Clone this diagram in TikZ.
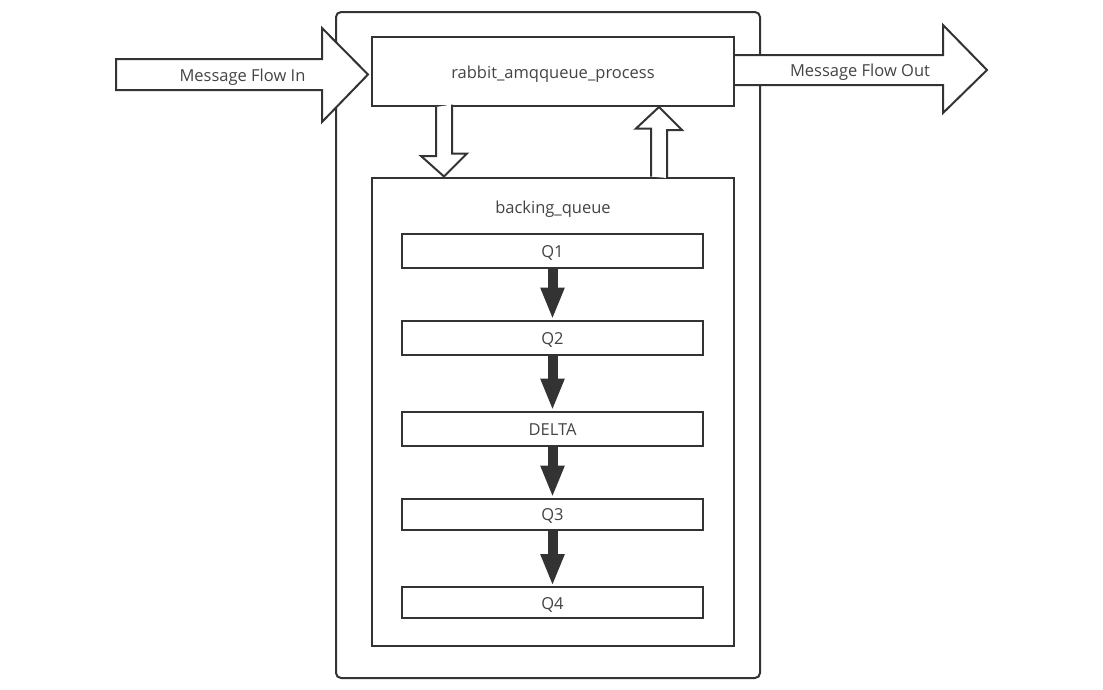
\documentclass[tikz,border=0pt]{standalone}
\usepackage{fontspec}
\setmainfont{Open Sans}
\usetikzlibrary{arrows.meta,calc}
\definecolor{ink}{HTML}{333333}
\definecolor{txt}{HTML}{444444}
\begin{document}
\begin{tikzpicture}[x=1pt,y=-1pt,
  box/.style={draw=ink, line width=2pt, fill=white, inner sep=0pt},
  qbox/.style={box, minimum width=301pt, minimum height=34pt},
  lbl/.style={text=txt, font=\fontsize{16.5}{19}\selectfont, text height=16pt, text depth=3pt},
  flow/.style={draw=ink, line width=2pt, fill=white, line join=miter},
  push/.style={draw=ink, line width=10pt, -{Triangle[width=22pt,length=32pt]}}]
\useasboundingbox (0,0) rectangle (1103,689);

% container and the two inner blocks
\node[box, rounded corners=5pt, minimum width=424pt, minimum height=666pt] (outer) at (548,345) {};
\node[box, minimum width=362pt, minimum height=468pt] (backing) at (553,411.5) {};
\node[lbl] (blabel) at (553,207) {backing\_queue};
\node[box, lbl, minimum width=362pt, minimum height=69pt] (proc) at (553,71.5) {rabbit\_amqqueue\_process};

% queue stages
\node[qbox, lbl] (q1) at (552.5,250.5) {Q1};
\node[qbox, lbl] (q2) at (552.5,337.5) {Q2};
\node[qbox, lbl] (delta) at (552.5,428.5) {DELTA};
\node[qbox, lbl, minimum height=31pt] (q3) at (552.5,514) {Q3};
\node[qbox, lbl, minimum height=31pt] (q4) at (552.5,602.5) {Q4};

\draw[push] (q1.south) -- (q2.north);
\draw[push] (q2.south) -- (delta.north);
\draw[push] (delta.south) -- (q3.north);
\draw[push] (q3.south) -- (q4.north);

% hollow arrows between the process and the backing queue
\coordinate (dn) at ($(proc.south west)+(73,0)$);
\coordinate (up) at ($(proc.south west)+(288,0)$);
\draw[flow] ($(dn)+(-8,0)$) -- ++(0,49) -- ++(-15,0) -- (dn |- backing.north)
  -- ++(23,-23) -- ++(-15,0) -- ++(0,-49);
\draw[flow] ($(up |- backing.north)+(-8,0)$) -- ++(0,-48) -- ++(-15,0) -- (up)
  -- ++(23,23) -- ++(-15,0) -- ++(0,48);

% incoming message flow
\coordinate (inTip) at ($(proc.west)+(-3,3)$);
\draw[flow] (116,59) -- (322,59) -- (322,28) -- (inTip) -- (322,122) -- (322,90)
  -- (116,90) -- cycle;
\node[lbl] (inlabel) at (242.5,75) {Message Flow In};

% outgoing message flow
\coordinate (outTip) at (987,70);
\draw[flow] (proc.east |- 0,55) -- (943,55) -- (943,25) -- (outTip) -- (943,113)
  -- (943,85) -- (proc.east |- 0,85);
\node[lbl] (outlabel) at (860,70) {Message Flow Out};
\end{tikzpicture}
\end{document}
